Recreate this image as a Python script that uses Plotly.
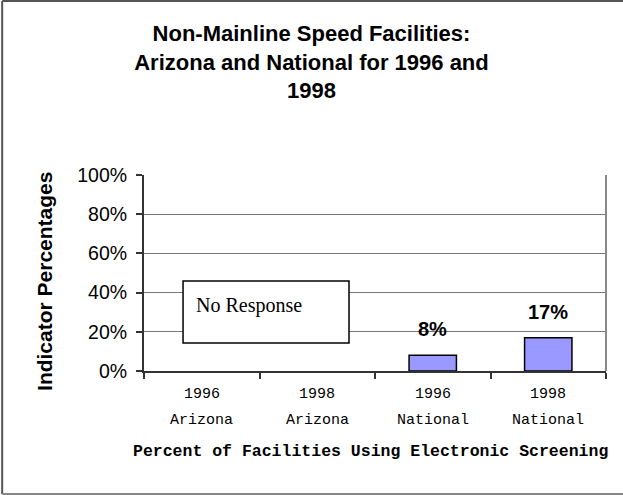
import plotly.graph_objects as go

# data
years = ["1996", "1998", "1996", "1998"]
regions = ["Arizona", "Arizona", "National", "National"]
values = [None, None, 0.08, 0.17]
y_ticks = [0, 0.2, 0.4, 0.6, 0.8, 1.0]

categories = [f"{y} {r}" for y, r in zip(years, regions)]

sans = "Arial, Liberation Sans, sans-serif"
mono = "Courier New, Liberation Mono, monospace"

fig = go.Figure()
fig.add_trace(
    go.Bar(
        x=categories,
        y=values,
        width=0.41,
        marker=dict(color="#9999ff", line=dict(color="black", width=1.5)),
        showlegend=False,
        hoverinfo="skip",
    )
)

annotations = []
# bar value labels
for c, v in zip(categories, values):
    if v is None:
        continue
    annotations.append(
        dict(
            x=c, y=v, xref="x", yref="y", text=f"<b>{v:.0%}</b>",
            showarrow=False, yanchor="bottom", yshift=13,
            font=dict(family=sans, size=20, color="black"),
        )
    )
# two-row category labels
for c, yr, rg in zip(categories, years, regions):
    annotations.append(
        dict(x=c, y=-0.122, xref="x", yref="paper", text=yr, showarrow=False,
             yanchor="middle", font=dict(family=mono, size=15, color="black"))
    )
    annotations.append(
        dict(x=c, y=-0.25, xref="x", yref="paper", text=rg, showarrow=False,
             yanchor="middle", font=dict(family=mono, size=15, color="black"))
    )
# axis titles
annotations.append(
    dict(x=0.491, y=-0.41, xref="paper", yref="paper",
         text="<b>Percent of Facilities Using Electronic Screening</b>",
         showarrow=False, yanchor="middle",
         font=dict(family=mono, size=16.5, color="black"))
)
annotations.append(
    dict(x=-0.214, y=0.455, xref="paper", yref="paper",
         text="<b>Indicator Percentages</b>", textangle=-90,
         xanchor="center", yanchor="middle",
         showarrow=False, font=dict(family=sans, size=21, color="black"))
)
# "No Response" note for Arizona
annotations.append(
    dict(x=-0.065, y=0.332, xref="x", yref="y", text="No Response",
         showarrow=False, xanchor="left", yanchor="middle",
         font=dict(family="Times New Roman, Liberation Serif, serif", size=20, color="black"))
)

frame = dict(color="#555555", width=2)
shapes = [
    # note box
    dict(type="rect", xref="x", yref="y", x0=-0.162, x1=1.275, y0=0.143, y1=0.459,
         line=dict(color="black", width=1.5), fillcolor="white", layer="above"),
    # right border of plot area
    dict(type="line", xref="paper", yref="paper", x0=1, x1=1, y0=0, y1=1,
         line=dict(color="#888888", width=2)),
    # outer frame: left, top, bottom
    dict(type="line", xref="paper", yref="paper", x0=-0.307, x1=-0.307, y0=-0.628, y1=1.888,
         line=frame, layer="below"),
    dict(type="line", xref="paper", yref="paper", x0=-0.307, x1=1.04, y0=1.888, y1=1.888,
         line=frame, layer="below"),
    dict(type="line", xref="paper", yref="paper", x0=-0.307, x1=1.04, y0=-0.628, y1=-0.628,
         line=dict(color="#888888", width=2), layer="below"),
]

fig.update_layout(
    width=623,
    height=495,
    margin=dict(l=144, r=17, t=175, b=124),
    paper_bgcolor="white",
    plot_bgcolor="white",
    title=dict(
        text="<b>Non-Mainline Speed Facilities:<br>Arizona and National for 1996 and<br>1998</b>",
        x=0.5, xanchor="center", y=0.917, yanchor="middle",
        font=dict(family=sans, size=22, color="black"),
    ),
    xaxis=dict(
        type="category",
        range=[-0.5, 3.5],
        showticklabels=False,
        showline=True, linecolor="#333333", linewidth=2,
        ticks="outside", tickson="boundaries", ticklen=6, tickcolor="#333333", tickwidth=1.5,
        showgrid=False, zeroline=False,
    ),
    yaxis=dict(
        range=[0, 1],
        tickvals=y_ticks,
        tickformat=".0%",
        showline=True, linecolor="#333333", linewidth=2,
        ticks="outside", ticklen=6, tickcolor="#333333", tickwidth=1.5,
        ticklabelstandoff=5,
        showgrid=True, gridcolor="#777777", gridwidth=1,
        zeroline=False,
        tickfont=dict(family=sans, size=19.5, color="black"),
    ),
    annotations=annotations,
    shapes=shapes,
    bargap=0.59,
)

fig.write_html(
    "out.html",
    config={"displayModeBar": False},
    post_script="document.body.style.margin='0';",
)
